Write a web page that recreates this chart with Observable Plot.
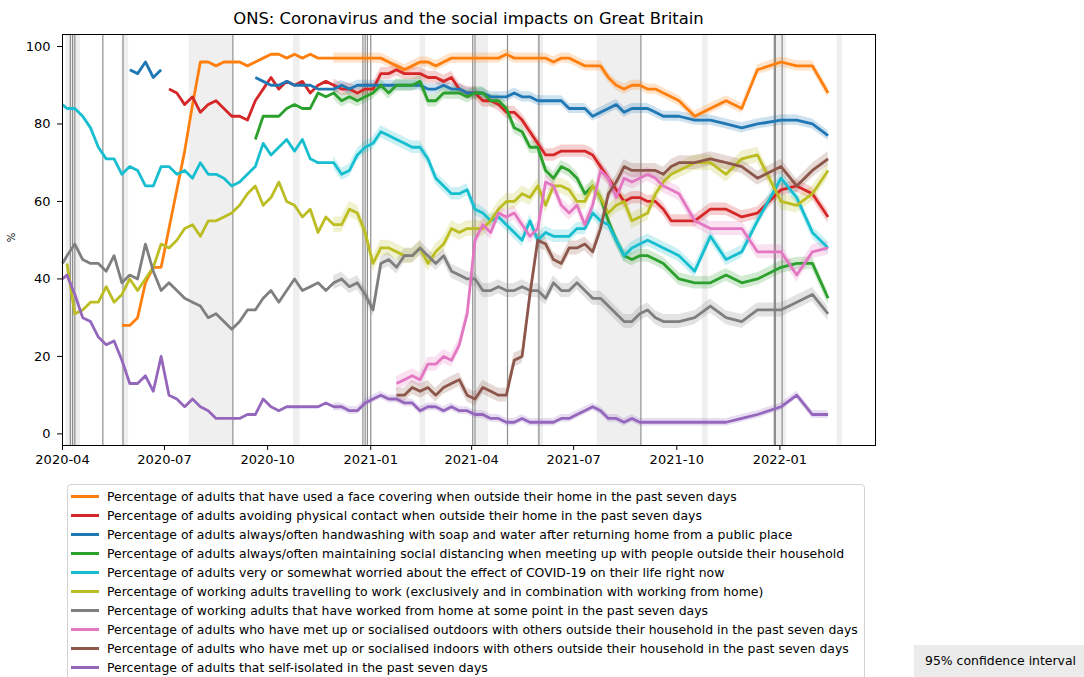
<!DOCTYPE html>
<html>
<head>
<meta charset="utf-8">
<script src="https://cdn.jsdelivr.net/npm/d3@7"></script>
<script src="https://cdn.jsdelivr.net/npm/@observablehq/plot@0.6"></script>
<style>
  html, body { margin: 0; padding: 0; background: #fff; }
  body { font-family: "DejaVu Sans", sans-serif; color: #000; }
  #wrap { position: relative; width: 1084px; height: 677px; overflow: hidden; }
  #chart { position: absolute; left: 0; top: 0; }
  #title { position: absolute; left: 62px; width: 813px; top: 9px; text-align: center; font-size: 16.4px; line-height: 19px; white-space: nowrap; }
  #ylab { position: absolute; left: 7px; top: 232px; font-size: 10px; transform: rotate(-90deg); transform-origin: center; }
  #legend { position: absolute; left: 67px; top: 484px; width: 798px; height: 220px; border: 1px solid #d3d3d3; border-radius: 4px; background: #fff; box-sizing: border-box; }
  .lrow { position: absolute; left: 0; height: 19px; line-height: 19px; font-size: 12.45px; white-space: nowrap; }
  .lsw { position: absolute; left: 3px; top: 8px; width: 28px; height: 3px; }
  .ltx { position: absolute; left: 39px; top: 0; }
  #ci { position: absolute; left: 914px; top: 645px; width: 170px; height: 32px; background: #ebebeb; font-size: 12.45px; line-height: 32px; padding-left: 11px; box-sizing: border-box; white-space: nowrap; }
</style>
</head>
<body>
<div id="wrap">
  <div id="title">ONS: Coronavirus and the social impacts on Great Britain</div>
  <div id="chart"></div>
  <div id="ylab">%</div>
  <div id="legend"></div>
  <div id="ci">95% confidence interval</div>
</div>
<script>
// ---- survey dates (x values) ----
const dates = [
  "2020-04-01","2020-04-05","2020-04-12","2020-04-19","2020-04-26","2020-05-03","2020-05-10","2020-05-17","2020-05-24","2020-05-31",
  "2020-06-07","2020-06-14","2020-06-21","2020-06-28","2020-07-05","2020-07-12","2020-07-19","2020-07-26","2020-08-02","2020-08-09",
  "2020-08-16","2020-08-23","2020-08-30","2020-09-06","2020-09-13","2020-09-20","2020-09-27","2020-10-04","2020-10-11","2020-10-18",
  "2020-10-25","2020-11-01","2020-11-08","2020-11-15","2020-11-22","2020-11-29","2020-12-06","2020-12-13","2020-12-20","2020-12-27",
  "2021-01-03","2021-01-10","2021-01-17","2021-01-24","2021-01-31","2021-02-07","2021-02-14","2021-02-21","2021-02-28","2021-03-07",
  "2021-03-14","2021-03-21","2021-03-28","2021-04-04","2021-04-11","2021-04-18","2021-04-25","2021-05-02","2021-05-09","2021-05-16",
  "2021-05-23","2021-05-30","2021-06-06","2021-06-13","2021-06-20","2021-06-27","2021-07-04","2021-07-11","2021-07-18","2021-07-25",
  "2021-08-01","2021-08-08","2021-08-15","2021-08-22","2021-08-29","2021-09-05","2021-09-12","2021-09-19","2021-09-26","2021-10-03",
  "2021-10-17","2021-10-31","2021-11-14","2021-11-28","2021-12-12","2022-01-02","2022-01-16","2022-01-30","2022-02-13"
];

// ---- series values (%), aligned with dates ----
const faceCovering = [
  null,null,null,null,null,null,null,null,28,28,
  30,39,43,43,53,63,73,85,96,96,
  95,96,96,96,95,96,97,98,98,97,
  98,97,98,97,97,97,97,97,97,97,
  97,97,96,95,94,95,96,96,95,96,
  97,97,97,97,97,97,97,98,97,97,
  97,97,97,96,97,97,96,95,95,95,
  92,90,89,90,90,89,89,88,87,86,
  82,84,86,84,94,96,95,95,88
];
const avoidingContact = [
  null,null,null,null,null,null,null,null,null,null,
  null,null,null,null,89,88,85,87,83,85,
  86,84,82,82,81,86,89,92,89,91,
  90,91,88,90,91,90,89,89,88,89,
  89,93,93,94,93,93,93,92,92,91,
  92,89,88,88,86,86,85,83,83,81,
  78,75,72,72,73,73,73,73,72,69,
  66,63,60,61,61,60,60,58,55,55,
  55,58,58,56,57,63,64,62,56
];
const handwashing = [
  null,null,null,null,null,null,null,null,null,94,
  93,96,92,94,null,null,null,null,null,null,
  null,null,null,null,null,92,91,90,90,91,
  90,90,90,89,89,89,90,89,90,90,
  90,90,90,90,90,90,90,89,89,90,
  89,89,88,88,88,87,87,87,88,87,
  87,86,86,86,86,84,84,84,82,83,
  84,85,83,84,84,84,83,82,82,82,
  81,81,80,79,80,81,81,80,77
];
const socialDistancing = [
  null,null,null,null,null,null,null,null,null,null,
  null,null,null,null,null,null,null,null,null,null,
  null,null,null,null,null,76,82,82,82,84,
  85,84,84,88,87,88,86,87,86,87,
  88,90,88,90,90,90,91,86,86,88,
  88,88,87,88,88,86,86,84,79,78,
  74,74,68,66,69,68,66,62,64,61,
  55,50,46,45,46,46,45,44,42,40,
  39,39,41,39,40,43,44,44,35
];
const worried = [
  85,84,84,82,79,74,71,71,67,69,
  68,64,64,69,69,67,68,66,70,67,
  67,66,64,65,67,69,75,72,74,76,
  73,76,71,70,70,70,67,68,72,74,
  75,78,77,76,75,74,74,71,66,64,
  62,62,63,58,57,55,56,54,52,50,
  55,50,52,51,51,51,53,53,57,55,
  54,50,46,48,49,50,49,48,47,46,
  42,51,45,47,55,66,61,52,48
];
const travellingToWork = [
  null,44,31,32,34,34,38,34,36,40,
  37,40,43,49,48,50,53,54,51,55,
  55,56,57,59,62,64,59,61,65,60,
  59,56,58,52,56,54,54,58,57,52,
  44,48,48,47,46,46,48,44,47,49,
  53,52,53,53,53,55,58,60,60,62,
  61,64,59,64,64,63,60,60,64,61,
  57,59,60,55,56,57,62,65,67,68,
  70,70,67,71,72,60,59,62,68
];
const workedFromHome = [
  44,46,49,45,44,44,42,46,39,41,
  40,49,42,37,39,37,35,34,33,30,
  31,29,27,29,32,32,35,37,34,37,
  40,37,38,39,37,39,40,38,39,36,
  32,44,45,43,46,46,48,46,44,46,
  42,41,40,40,37,37,38,37,37,38,
  37,37,35,39,37,37,39,37,35,35,
  33,31,29,29,31,32,30,29,29,29,
  30,33,30,29,32,32,34,36,31
];
const metOutdoors = [
  null,null,null,null,null,null,null,null,null,null,
  null,null,null,null,null,null,null,null,null,null,
  null,null,null,null,null,null,null,null,null,null,
  null,null,null,null,null,null,null,null,null,null,
  null,null,null,13,14,15,14,18,18,20,
  19,23,31,50,54,52,57,56,57,54,
  51,53,65,64,59,57,59,54,59,68,
  66,61,66,65,66,67,66,64,63,62,
  55,53,53,53,47,47,41,47,48
];
const metIndoors = [
  null,null,null,null,null,null,null,null,null,null,
  null,null,null,null,null,null,null,null,null,null,
  null,null,null,null,null,null,null,null,null,null,
  null,null,null,null,null,null,null,null,null,null,
  null,null,null,10,10,12,11,12,10,12,
  13,14,10,9,12,11,10,10,19,20,
  36,50,49,45,44,48,48,49,47,53,
  62,65,69,68,68,68,68,67,69,70,
  70,71,70,69,66,69,64,68,71
];
const selfIsolated = [
  40,41,36,30,29,25,23,24,19,13,
  13,15,11,20,10,9,7,9,7,6,
  4,4,4,4,5,5,9,7,6,7,
  7,7,7,7,8,7,7,6,6,8,
  9,10,9,9,8,8,6,7,7,6,
  7,6,6,5,5,4,4,3,3,4,
  3,3,3,3,4,4,5,6,7,6,
  4,4,3,4,3,3,3,3,3,3,
  3,3,3,4,5,7,10,5,5
];

// ---- categories ----
const seriesLabels = [
  "Percentage of adults that have used a face covering when outside their home in the past seven days",
  "Percentage of adults avoiding physical contact when outside their home in the past seven days",
  "Percentage of adults always/often handwashing with soap and water after returning home from a public place",
  "Percentage of adults always/often maintaining social distancing when meeting up with people outside their household",
  "Percentage of adults very or somewhat worried about the effect of COVID-19 on their life right now",
  "Percentage of working adults travelling to work (exclusively and in combination with working from home)",
  "Percentage of working adults that have worked from home at some point in the past seven days",
  "Percentage of adults who have met up or socialised outdoors with others outside their household in the past seven days",
  "Percentage of adults who have met up or socialised indoors with others outside their household in the past seven days",
  "Percentage of adults that self-isolated in the past seven days"
];
const seriesValues = [faceCovering, avoidingContact, handwashing, socialDistancing, worried,
  travellingToWork, workedFromHome, metOutdoors, metIndoors, selfIsolated];
const seriesColors = ["#ff7f0e","#d62728","#1f77b4","#2ca02c","#17becf","#bcbd22","#7f7f7f","#e377c2","#8c564b","#9467bd"];

// 95% confidence interval half-widths (percentage points), reported from this date on
const ciHalfWidth = [1.3, 1.6, 1.3, 1.6, 1.6, 2.0, 1.8, 1.8, 1.8, 1.0];
const ciFrom = "2020-11-29";

// ---- event markers ----
const bankHolidays = ["2020-04-08","2020-04-10","2020-04-12","2020-05-07","2020-05-25","2020-08-31",
  "2020-12-25","2020-12-27","2020-12-29","2021-01-01","2021-04-02","2021-04-04",
  "2021-05-03","2021-05-31","2021-08-30","2021-12-27","2021-12-28","2022-01-03"];
const schoolHolidays = [
  ["2020-04-04","2020-04-17"],["2020-05-24","2020-05-30"],["2020-07-23","2020-08-31"],
  ["2020-10-24","2020-10-30"],["2021-02-14","2021-02-19"],["2021-04-05","2021-04-16"],
  ["2021-05-30","2021-06-04"],["2021-07-22","2021-08-30"],["2021-10-24","2021-10-29"],
  ["2021-12-27","2022-01-07"],["2022-02-21","2022-02-26"]
];

// ---- tick labels ----
const xTicks = ["2020-04-01","2020-07-01","2020-10-01","2021-01-01","2021-04-01","2021-07-01","2021-10-01","2022-01-01"];
const yTicks = [0, 20, 40, 60, 80, 100];

// ---- build tables ----
const ciStartDate = new Date(ciFrom);
const tables = seriesValues.map((vals, k) => dates.map((d, i) => {
  const date = new Date(d);
  const v = vals[i];
  const hasCI = v != null && date >= ciStartDate;
  return {date, v, lo: hasCI ? v - ciHalfWidth[k] : null, hi: hasCI ? v + ciHalfWidth[k] : null};
}));

const chart = Plot.plot({
  width: 1084,
  height: 470,
  marginLeft: 62,
  marginRight: 209,
  marginTop: 34,
  marginBottom: 25,
  style: {fontFamily: "DejaVu Sans", fontSize: "13px", color: "#000", background: "transparent", overflow: "visible"},
  x: {type: "utc", domain: [new Date("2020-04-01"), new Date("2022-03-27T07:00")],
      ticks: xTicks.map(d => new Date(d)), tickFormat: d3.utcFormat("%Y-%m"),
      tickSize: 5, tickPadding: 4, label: null},
  y: {domain: [-3, 103.1], ticks: yTicks, tickSize: 5, tickPadding: 7, label: null},
  marks: [
    Plot.rect(schoolHolidays, {x1: d => new Date(d[0]), x2: d => new Date(d[1]), fill: "#efefef"}),
    Plot.ruleX(bankHolidays, {x: d => new Date(d), stroke: "#7a7a7a", strokeWidth: 1.2, strokeOpacity: 0.85}),
    ...tables.map((t, k) => Plot.areaY(t, {x: "date", y1: "lo", y2: "hi", fill: seriesColors[k], fillOpacity: 0.22})),
    ...tables.map((t, k) => Plot.line(t, {x: "date", y: "v", stroke: seriesColors[k], strokeWidth: 2.8,
      strokeLinejoin: "round", strokeLinecap: "butt"})),
    Plot.frame({stroke: "#000", strokeWidth: 1})
  ]
});
document.getElementById("chart").appendChild(chart);

// ---- legend ----
const legend = document.getElementById("legend");
seriesLabels.forEach((lab, i) => {
  const row = document.createElement("div");
  row.className = "lrow";
  row.style.top = (1.5 + i * 19.08) + "px";
  const sw = document.createElement("div");
  sw.className = "lsw";
  sw.style.background = seriesColors[i];
  const tx = document.createElement("div");
  tx.className = "ltx";
  tx.textContent = lab;
  row.appendChild(sw);
  row.appendChild(tx);
  legend.appendChild(row);
});
</script>
</body>
</html>
